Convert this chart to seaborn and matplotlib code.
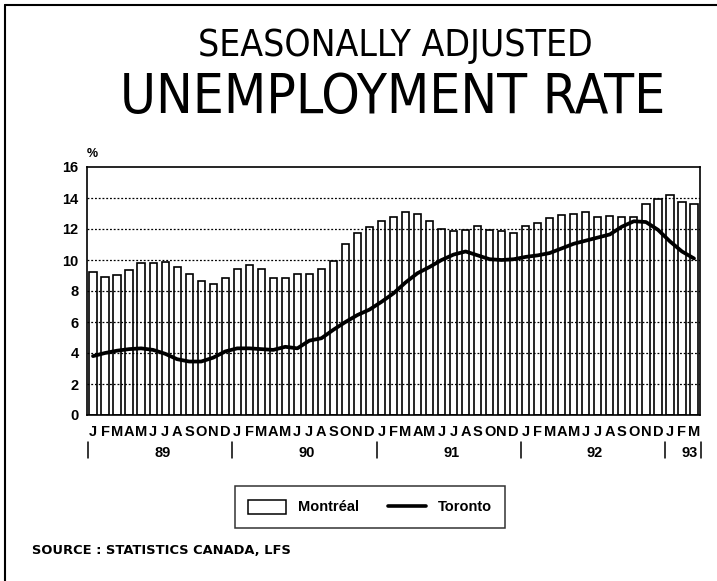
import matplotlib
matplotlib.use('Agg')
import matplotlib.pyplot as plt
import matplotlib.transforms as mtrans
from matplotlib import font_manager
from matplotlib.patches import Patch
from matplotlib.lines import Line2D
import seaborn as sns
import pandas as pd

# DONNEES
months = list('JFMAMJJASOND') * 4 + list('JFM')
years = ['89', '90', '91', '92', '93']
year_pos = [5.8, 17.8, 29.8, 41.7, 49.6]
year_sep = [-0.4, 11.6, 23.6, 35.6, 47.6, 50.6]

montreal = [9.2, 8.9, 9.05, 9.35, 9.8, 9.8, 9.9, 9.55, 9.1, 8.65, 8.45, 8.85,
            9.4, 9.65, 9.4, 8.85, 8.85, 9.1, 9.1, 9.4, 9.95, 11.05, 11.75, 12.1,
            12.5, 12.8, 13.1, 12.95, 12.5, 12.0, 11.85, 11.95, 12.2, 11.95, 11.85, 11.75,
            12.2, 12.4, 12.7, 12.9, 12.95, 13.1, 12.8, 12.85, 12.75, 12.75, 13.6, 13.95,
            14.2, 13.75, 13.6]
toronto = [3.8, 4.0, 4.15, 4.25, 4.3, 4.2, 3.95, 3.6, 3.45, 3.45, 3.7, 4.1,
           4.3, 4.3, 4.25, 4.2, 4.4, 4.3, 4.8, 4.95, 5.5, 6.0, 6.45, 6.8,
           7.3, 7.85, 8.55, 9.15, 9.55, 10.0, 10.35, 10.55, 10.3, 10.05, 10.0, 10.05,
           10.2, 10.3, 10.45, 10.75, 11.05, 11.25, 11.45, 11.65, 12.15, 12.5, 12.45, 11.95,
           11.2, 10.55, 10.1]

df = pd.DataFrame({'idx': range(len(months)), 'Montreal': montreal, 'Toronto': toronto})

sns.set_style('white')
plt.rcParams['font.family'] = ['Liberation Sans', 'DejaVu Sans']
plt.rcParams['text.color'] = 'black'
plt.rcParams['xtick.color'] = 'black'
plt.rcParams['ytick.color'] = 'black'

# police étroite pour le titre si disponible
fonts = font_manager.fontManager.ttflist
if any(f.name == 'Liberation Sans Narrow' for f in fonts):
    title_font = dict(family='Liberation Sans Narrow')
    t1_size, t2_size = 28, 43
elif any(f.name == 'DejaVu Sans' and f.stretch == 'condensed' for f in fonts):
    title_font = dict(family='DejaVu Sans', fontstretch='condensed')
    t1_size, t2_size = 26.7, 39.3
else:
    title_font = dict(family='Liberation Sans')
    t1_size, t2_size = 25, 35

fig = plt.figure(figsize=(7.17, 5.81), dpi=100)
ax = fig.add_axes([87 / 717, 1 - 415 / 581, 613 / 717, 248 / 581])

# barres Montréal
sns.barplot(data=df, x='idx', y='Montreal', color='white', edgecolor='black',
            linewidth=1.2, width=0.6, saturation=1, ax=ax, zorder=2)

# grille pointillée par-dessus les barres
for yv in range(2, 16, 2):
    ax.axhline(yv, color='black', ls=(0, (1.5, 1.5)), lw=0.9, zorder=3)

# ligne Toronto
sns.lineplot(data=df, x='idx', y='Toronto', color='black', lw=2.7, ax=ax, zorder=4)

ax.set_xlim(-0.5, 50.5)
ax.set_ylim(0, 16)
ax.set_xlabel('')
ax.set_ylabel('')
ax.set_yticks(range(0, 17, 2))
ax.set_yticklabels([str(v) for v in range(0, 17, 2)], fontweight='bold', fontsize=10.5)
ax.set_xticks(range(len(months)))
ax.set_xticklabels(months, fontweight='bold', fontsize=10.5)
ax.tick_params(axis='x', length=0, pad=7)
ax.tick_params(axis='y', length=0, pad=6)
for s in ax.spines.values():
    s.set_color('black')
    s.set_linewidth(1.2)

# années et séparateurs
trans = mtrans.blended_transform_factory(ax.transData, ax.transAxes)
for yr, xp in zip(years, year_pos):
    ax.text(xp, -0.153, yr, transform=trans, ha='center', va='center',
            fontweight='bold', fontsize=10.5)
for xs in year_sep:
    ax.add_line(Line2D([xs, xs], [-0.109, -0.173], transform=trans, color='black',
                       lw=1.1, clip_on=False))

ax.text(-0.5, 1.03, '%', transform=trans, ha='left', va='bottom',
        fontweight='bold', fontsize=9)

# titres
fig.text(395 / 717, 1 - 45 / 581, 'SEASONALLY ADJUSTED', ha='center', va='center',
         fontsize=t1_size, **title_font)
fig.text(393 / 717, 1 - 98 / 581, 'UNEMPLOYMENT RATE', ha='center', va='center',
         fontsize=t2_size, **title_font)

# légende
handles = [Patch(facecolor='white', edgecolor='black', lw=1.1, label='Montréal'),
           Line2D([], [], color='black', lw=2.6, label='Toronto')]
leg = fig.legend(handles=handles, loc='center', bbox_to_anchor=(370 / 717, 1 - 507 / 581),
                 ncol=2, frameon=True, fancybox=False, handlelength=2.6, handleheight=1.1,
                 columnspacing=2.0, borderpad=0.9, prop={'weight': 'bold', 'size': 10.5})
leg.get_frame().set_edgecolor('black')
leg.get_frame().set_linewidth(1.1)

fig.text(32 / 717, 1 - 551 / 581, 'SOURCE : STATISTICS CANADA, LFS', ha='left', va='center',
         family='DejaVu Sans', fontweight='bold', fontsize=9.4)

# cadre extérieur
fig.add_artist(Line2D([5 / 717, 5 / 717], [0, 1 - 5 / 581], transform=fig.transFigure,
                      color='black', lw=1.5))
fig.add_artist(Line2D([5 / 717, 1], [1 - 5 / 581, 1 - 5 / 581], transform=fig.transFigure,
                      color='black', lw=1.5))

fig.savefig('out.png', dpi=100)
